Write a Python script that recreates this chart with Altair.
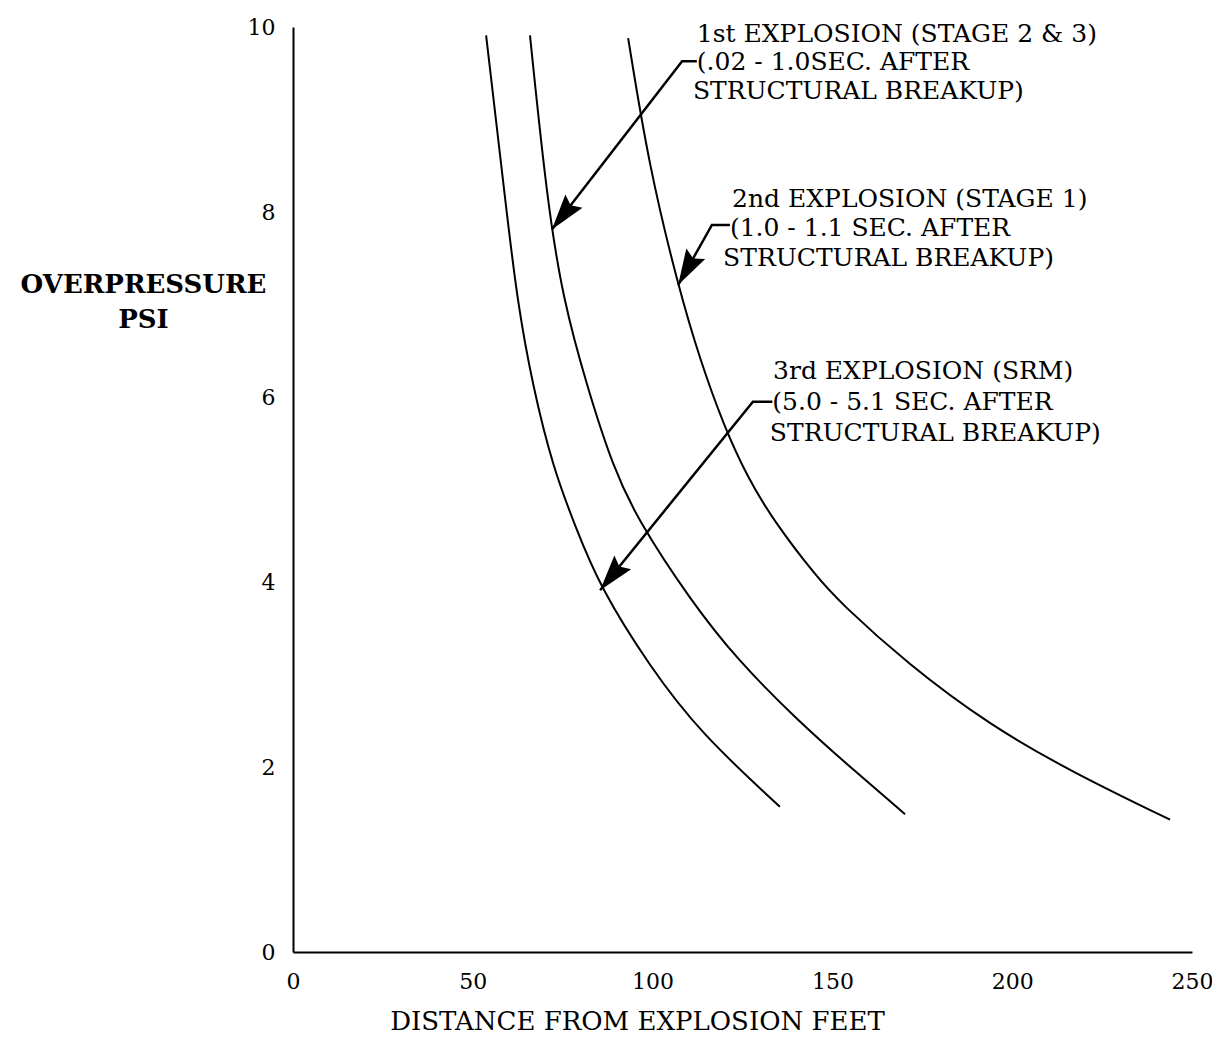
import math
import altair as alt
import pandas as pd

# ---- values: distance (ft) vs overpressure (psi) ----
srm_x = [53.7, 59.0, 62.3, 66.7, 72.3, 78.3, 85.4, 99.3, 113.2, 135.4]
srm_y = [9.91, 8.14, 7.05, 6.11, 5.24, 4.62, 3.94, 3.08, 2.37, 1.57]

stage23_x = [65.9, 70.6, 75.1, 81.8, 89.0, 95.9, 110.4, 123.5, 140.2, 154.9, 170.2]
stage23_y = [9.91, 8.14, 7.05, 6.11, 5.24, 4.67, 3.81, 3.16, 2.51, 2.00, 1.49]

stage1_x = [93.2, 99.0, 107.1, 113.2, 119.9, 126.3, 133.5, 145.7, 152.1, 170.7, 193.8, 216.9, 243.9]
stage1_y = [9.88, 8.49, 7.20, 6.40, 5.68, 5.14, 4.67, 4.05, 3.78, 3.12, 2.45, 1.94, 1.43]

x_ticks = [0, 50, 100, 150, 200, 250]
y_ticks = [0, 2, 4, 6, 8, 10]

# annotation text lines (text, x, y in data units)
ann_text = [
    "1st EXPLOSION (STAGE 2 & 3)", "(.02 - 1.0SEC. AFTER", "STRUCTURAL BREAKUP)",
    "2nd EXPLOSION (STAGE 1)", "(1.0 - 1.1 SEC. AFTER", "STRUCTURAL BREAKUP)",
    "3rd EXPLOSION (SRM)", "(5.0 - 5.1 SEC. AFTER", "STRUCTURAL BREAKUP)",
]
ann_x = [112.3, 112.3, 111.2, 122.1, 121.5, 119.6, 133.5, 133.3, 132.6]
ann_y = [9.92, 9.62, 9.31, 8.14, 7.83, 7.50, 6.28, 5.95, 5.61]

# leader arrows: (end of short horizontal, corner, tip) in data units
leader_x = [[112.3, 108.2, 72.0], [121.5, 116.5, 107.1], [133.3, 127.9, 85.4]]
leader_y = [[9.63, 9.63, 7.81], [7.86, 7.86, 7.21], [5.95, 5.95, 3.91]]

W, H = 899, 925
XMAX, YMAX = 250, 10
FONT = "DejaVu Serif"

rows = []
for name, xs, ys in [("srm", srm_x, srm_y), ("s23", stage23_x, stage23_y), ("s1", stage1_x, stage1_y)]:
    for xv, yv in zip(xs, ys):
        rows.append({"series": name, "x": xv, "y": yv})
curves = pd.DataFrame(rows)

lrows, hrows = [], []
for k, (lx, ly) in enumerate(zip(leader_x, leader_y)):
    for i, (xv, yv) in enumerate(zip(lx, ly)):
        lrows.append({"arrow": k, "i": i, "x": xv, "y": yv})
    dx = (lx[2] - lx[1]) * W / XMAX
    dy = (ly[1] - ly[2]) * H / YMAX
    ang = math.degrees(math.atan2(-dx, dy)) % 360
    hrows.append({"x": lx[2], "y": ly[2], "ang": ang})
leaders = pd.DataFrame(lrows)
heads = pd.DataFrame(hrows)
ann = pd.DataFrame({"text": ann_text, "x": ann_x, "y": ann_y})

xs = alt.Scale(domain=[0, XMAX], nice=False, zero=False)
ys = alt.Scale(domain=[0, YMAX], nice=False, zero=False)

x_axis = alt.Axis(
    values=x_ticks, format="d", ticks=False, grid=False, domainColor="black", domainWidth=2,
    labelFont=FONT, labelFontSize=22, labelColor="black", labelPadding=19, labelFlush=False,
    title="DISTANCE FROM EXPLOSION FEET", titleFont=FONT, titleFontSize=26,
    titleFontWeight="normal", titleColor="black", titleX=344, titleY=77,
    titleAlign="center", titleBaseline="alphabetic",
)
y_axis = alt.Axis(
    values=y_ticks, format="d", ticks=False, grid=False, domainColor="black", domainWidth=2,
    labelFont=FONT, labelFontSize=22, labelColor="black", labelPadding=18, labelFlush=False,
    title=["OVERPRESSURE", "PSI"], titleFont=FONT, titleFontSize=26,
    titleFontWeight="bold", titleColor="black", titleAngle=0, titleX=-150, titleY=244,
    titleAlign="center", titleBaseline="top", titleLineHeight=35,
)

lines = alt.Chart(curves).mark_line(color="black", strokeWidth=2, interpolate="basis").encode(
    x=alt.X("x:Q", scale=xs, axis=x_axis),
    y=alt.Y("y:Q", scale=ys, axis=y_axis),
    detail="series:N",
)

leader_lines = alt.Chart(leaders).mark_line(color="black", strokeWidth=2.5).encode(
    x=alt.X("x:Q", scale=xs),
    y=alt.Y("y:Q", scale=ys),
    detail="arrow:N",
    order="i:Q",
)

arrow_heads = alt.Chart(heads).mark_point(
    shape="M0,0 L-0.3,-1 L0,-0.85 L0.3,-1 Z", filled=True, color="black",
    size=5184, opacity=1, strokeWidth=0,
).encode(
    x=alt.X("x:Q", scale=xs),
    y=alt.Y("y:Q", scale=ys),
    angle=alt.Angle("ang:Q", scale=None),
)

labels = alt.Chart(ann).mark_text(
    align="left", baseline="middle", font=FONT, fontSize=25, color="black"
).encode(
    x=alt.X("x:Q", scale=xs),
    y=alt.Y("y:Q", scale=ys),
    text="text:N",
)

chart = alt.layer(lines, leader_lines, arrow_heads, labels).properties(
    width=W, height=H,
    autosize=alt.AutoSizeParams(type="none"),
    padding={"left": 285, "top": 19, "right": 20, "bottom": 84},
    background="white",
).configure_view(stroke=None)

chart.save("out.html", embed_options={"renderer": "svg", "actions": False})
